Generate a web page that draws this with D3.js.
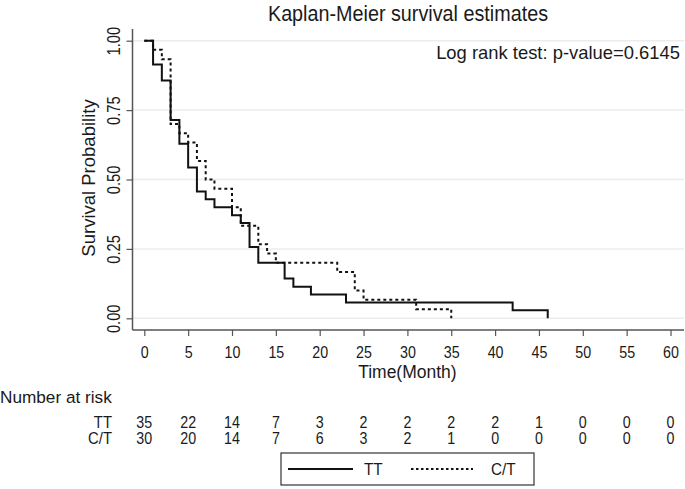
<!DOCTYPE html>
<html><head><meta charset="utf-8">
<script src="https://cdn.jsdelivr.net/npm/d3@7"></script>
<style>
body{margin:0;background:#fff}
text{font-family:"Liberation Sans",Arial,sans-serif;fill:#1a1a1a}
</style>
</head><body>
<svg id="c" width="685" height="489"></svg>
<script>
// ---------- data ----------
const chartTitle = "Kaplan-Meier survival estimates";
const annotation = "Log rank test: p-value=0.6145";
const xTitle = "Time(Month)";
const yTitle = "Survival Probability";
const groups = ["TT", "C/T"];

const ttTimes = [0, 1, 2, 3, 4, 5, 6, 7, 8, 10, 11, 12, 13, 16, 17, 19, 23, 42, 46];
const ttSurv  = [1, 0.914, 0.857, 0.714, 0.629, 0.543, 0.457, 0.429, 0.400, 0.371, 0.343, 0.257, 0.200, 0.143, 0.114, 0.086, 0.057, 0.029, 0];

const ctTimes = [0, 1, 2, 3, 4, 5, 6, 7, 8, 10, 11, 13, 14, 15, 22, 24, 25, 31, 35];
const ctSurv  = [1, 0.967, 0.933, 0.700, 0.667, 0.633, 0.567, 0.500, 0.467, 0.400, 0.333, 0.267, 0.233, 0.200, 0.167, 0.100, 0.067, 0.033, 0];

const xTicks = [0, 5, 10, 15, 20, 25, 30, 35, 40, 45, 50, 55, 60];
const yTicks = [0, 0.25, 0.5, 0.75, 1];
const yTickLabels = ["0.00", "0.25", "0.50", "0.75", "1.00"];

const riskTitle = "Number at risk";
const ttRisk = [35, 22, 14, 7, 3, 2, 2, 2, 2, 1, 0, 0, 0];
const ctRisk = [30, 20, 14, 7, 6, 3, 2, 1, 0, 0, 0, 0, 0];

// ---------- layout ----------
const NUM_FONT = 17, NARROW = 0.84;
const svg = d3.select("#c");
const frameL = 132.5, frameR = 684, frameT = 29, frameB = 330;
const x = d3.scaleLinear().domain([0, 60]).range([144.3, 670.5]);
const y = d3.scaleLinear().domain([0, 1]).range([318.3, 40.7]);

// gridlines
svg.append("g").selectAll("line").data(yTicks).join("line")
  .attr("x1", frameL).attr("x2", frameR)
  .attr("y1", d => y(d)).attr("y2", d => y(d))
  .attr("stroke", "#ececec").attr("stroke-width", 1.5);

// axis lines
svg.append("line").attr("x1", frameL).attr("x2", frameL).attr("y1", frameT).attr("y2", frameB)
  .attr("stroke", "#555").attr("stroke-width", 1.5);
svg.append("line").attr("x1", frameL).attr("x2", frameR).attr("y1", frameB).attr("y2", frameB)
  .attr("stroke", "#555").attr("stroke-width", 1.5);

// y axis
const gy = svg.append("g").attr("transform", `translate(${frameL},0)`)
  .call(d3.axisLeft(y).tickValues(yTicks).tickFormat((d, i) => yTickLabels[i]).tickSize(6).tickSizeOuter(0));
gy.select(".domain").remove();
gy.selectAll(".tick line").attr("stroke", "#555").attr("stroke-width", 1.2);
gy.selectAll(".tick text")
  .attr("x", null).attr("dy", null)
  .attr("transform", `translate(-12.5,0) rotate(-90) scale(${NARROW},1)`)
  .attr("text-anchor", "middle")
  .style("font-size", "17.5px").style("font-family", "Liberation Sans, Arial, sans-serif").style("fill", "#1a1a1a");

// x axis
const gx = svg.append("g").attr("transform", `translate(0,${frameB})`)
  .call(d3.axisBottom(x).tickValues(xTicks).tickSize(6).tickSizeOuter(0));
gx.select(".domain").remove();
gx.selectAll(".tick line").attr("stroke", "#555").attr("stroke-width", 1.2);
gx.selectAll(".tick text")
  .attr("y", null).attr("dy", null)
  .attr("transform", `translate(0,27.5) scale(${NARROW},1)`)
  .style("font-size", NUM_FONT + "px").style("font-family", "Liberation Sans, Arial, sans-serif").style("fill", "#1a1a1a");

// axis titles
svg.append("text").attr("transform", "translate(94.5,178) rotate(-90)")
  .attr("text-anchor", "middle").style("font-size", "18.5px").text(yTitle);
svg.append("text").attr("x", x(30)).attr("y", 377.5)
  .attr("text-anchor", "middle").style("font-size", "17.5px").text(xTitle);

// title + annotation
svg.append("text").attr("transform", "translate(408,21) scale(0.92,1)")
  .attr("text-anchor", "middle").style("font-size", "21.5px").text(chartTitle);
svg.append("text").attr("x", 680).attr("y", 59)
  .attr("text-anchor", "end").style("font-size", "18.4px").text(annotation);

// curves
const line = d3.line().x(d => x(d[0])).y(d => y(d[1])).curve(d3.curveStepAfter);
const ttData = ttTimes.map((t, i) => [t, ttSurv[i]]);
const ctData = ctTimes.map((t, i) => [t, ctSurv[i]]);
svg.append("path").datum(ttData).attr("d", line)
  .attr("fill", "none").attr("stroke", "#111").attr("stroke-width", 2);
svg.append("path").datum(ctData).attr("d", line)
  .attr("fill", "none").attr("stroke", "#111").attr("stroke-width", 2)
  .attr("stroke-dasharray", "3,3");

// risk table
svg.append("text").attr("x", 0).attr("y", 403).style("font-size", "17.2px").text(riskTitle);
const rows = [ttRisk, ctRisk];
const rowY = [427.5, 444];
rows.forEach((vals, r) => {
  svg.append("text").attr("transform", `translate(112,${rowY[r]}) scale(0.9,1)`).attr("text-anchor", "end")
    .style("font-size", "16.5px").text(groups[r]);
  svg.append("g").selectAll("text").data(vals).join("text")
    .attr("transform", (d, i) => `translate(${x(xTicks[i])},${rowY[r]}) scale(${NARROW},1)`)
    .attr("text-anchor", "middle").style("font-size", NUM_FONT + "px").text(d => d);
});

// legend
const lg = svg.append("g");
lg.append("rect").attr("x", 281).attr("y", 453).attr("width", 253).attr("height", 32)
  .attr("fill", "none").attr("stroke", "#333").attr("stroke-width", 1.2);
lg.append("line").attr("x1", 288).attr("x2", 353).attr("y1", 469).attr("y2", 469)
  .attr("stroke", "#111").attr("stroke-width", 2);
lg.append("text").attr("transform", "translate(364,475) scale(0.9,1)").style("font-size", "17px").text(groups[0]);
lg.append("line").attr("x1", 411).attr("x2", 473).attr("y1", 469).attr("y2", 469)
  .attr("stroke", "#111").attr("stroke-width", 2).attr("stroke-dasharray", "2.5,2.5");
lg.append("text").attr("transform", "translate(491,475) scale(0.9,1)").style("font-size", "17px").text(groups[1]);
</script>
</body></html>
